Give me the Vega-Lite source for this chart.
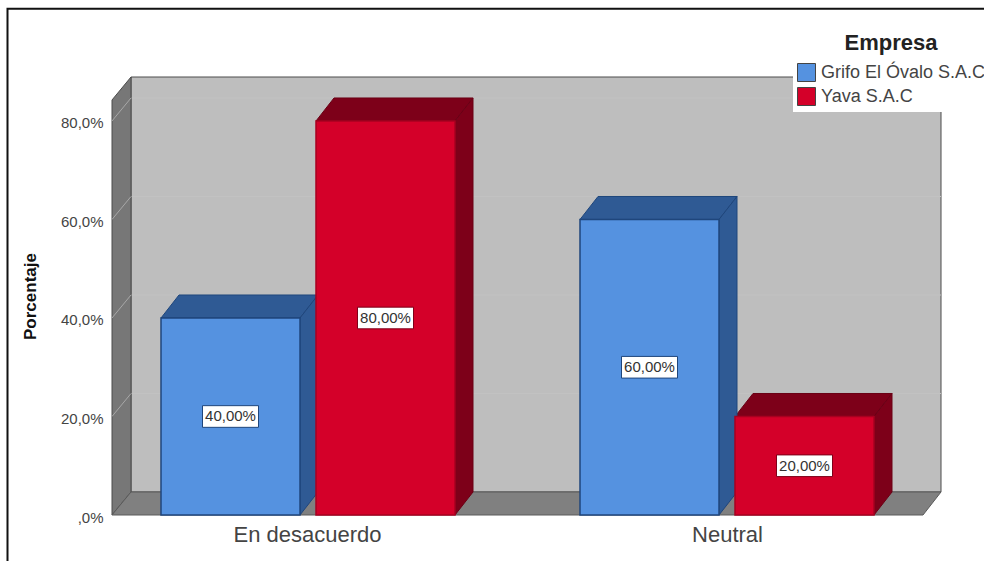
{"$schema":"https://vega.github.io/schema/vega-lite/v6.json","width":829,"height":438,"autosize":"none","padding":{"left":112,"top":77,"right":43,"bottom":46},"background":"white","config":{"view":{"stroke":null},"font":"Liberation Sans"},"datasets":{"barras":[{"categoria":"En desacuerdo","empresa":"Grifo El Óvalo S.A.C","valor":40},{"categoria":"En desacuerdo","empresa":"Yava S.A.C","valor":80},{"categoria":"Neutral","empresa":"Grifo El Óvalo S.A.C","valor":60},{"categoria":"Neutral","empresa":"Yava S.A.C","valor":20}],"marcas":[{"v":20},{"v":40},{"v":60},{"v":80}],"paredIzq":[{"x":0,"y":0,"y2":84.26},{"x":19,"y":4.67,"y2":88.93}],"piso":[{"x":0,"x2":811,"y":0},{"x":19,"x2":829,"y":4.67}]},"layer":[{"data":{"values":[{}]},"mark":{"type":"rect","fill":"#bebebe","stroke":"#4d4d4d","strokeWidth":1},"encoding":{"x":{"datum":19,"type":"quantitative","scale":{"domain":[0,829],"nice":false},"axis":{"values":[195,615],"labelExpr":"datum.value<300?'En desacuerdo':'Neutral'","title":null,"domain":false,"ticks":false,"grid":false,"labelFontSize":22,"labelColor":"#444444","labelPadding":9,"labelFont":"Liberation Sans"}},"x2":{"datum":829},"y":{"datum":4.67,"type":"quantitative","scale":{"domain":[0,88.93],"nice":false},"axis":{"values":[0,20,40,60,80],"labelExpr":"datum.value==0?',0%':replace(format(datum.value,'.1f'),'.',',')+'%'","title":"Porcentaje","titleFontSize":17,"titleFontWeight":"bold","titleColor":"#111111","titleFont":"Liberation Sans","titlePadding":21,"domain":false,"ticks":false,"grid":false,"labelFontSize":15,"labelColor":"#444444","labelPadding":9,"labelOffset":2,"labelFont":"Liberation Sans"}},"y2":{"datum":88.93}}},{"data":{"name":"marcas"},"transform":[{"calculate":"datum.v+4.67","as":"yg"}],"mark":{"type":"rule","stroke":"#c3c3c3","strokeWidth":1},"encoding":{"x":{"datum":19,"type":"quantitative"},"x2":{"datum":829},"y":{"field":"yg","type":"quantitative"}}},{"data":{"name":"paredIzq"},"mark":{"type":"area","orient":"vertical","fill":"#777777","stroke":"#4d4d4d","strokeWidth":1},"encoding":{"x":{"field":"x","type":"quantitative"},"y":{"field":"y","type":"quantitative","stack":null},"y2":{"field":"y2"}}},{"data":{"name":"piso"},"mark":{"type":"area","orient":"horizontal","fill":"#808080","stroke":"#5a5a5a","strokeWidth":1},"encoding":{"x":{"field":"x","type":"quantitative","stack":null},"x2":{"field":"x2"},"y":{"field":"y","type":"quantitative"}}},{"data":{"name":"marcas"},"transform":[{"calculate":"[0,1]","as":"t"},{"flatten":["t"]},{"calculate":"19*datum.t","as":"xd"},{"calculate":"datum.v+4.67*datum.t","as":"yd"}],"mark":{"type":"line","stroke":"#a8a8a8","strokeWidth":1},"encoding":{"x":{"field":"xd","type":"quantitative"},"y":{"field":"yd","type":"quantitative"},"detail":{"field":"v"}}},{"data":{"name":"barras"},"transform":[{"calculate":"49+(datum.categoria=='Neutral'?419:0)+(datum.empresa=='Yava S.A.C'?155:0)","as":"pos"},{"calculate":"datum.categoria+datum.empresa","as":"id"},{"calculate":"[0,1]","as":"t"},{"flatten":["t"]},{"calculate":"datum.pos+18*datum.t","as":"xa"},{"calculate":"datum.pos+139+18*datum.t","as":"xb"},{"calculate":"datum.valor+4.67*datum.t","as":"yy"}],"mark":{"type":"area","orient":"horizontal","strokeWidth":1},"encoding":{"x":{"field":"xa","type":"quantitative","stack":null},"x2":{"field":"xb"},"y":{"field":"yy","type":"quantitative"},"detail":{"field":"id"},"fill":{"condition":{"test":"datum.empresa=='Yava S.A.C'","value":"#7d0019"},"value":"#2f5a94"},"stroke":{"condition":{"test":"datum.empresa=='Yava S.A.C'","value":"#6a0015"},"value":"#1f467c"}}},{"data":{"name":"barras"},"transform":[{"calculate":"49+(datum.categoria=='Neutral'?419:0)+(datum.empresa=='Yava S.A.C'?155:0)","as":"pos"},{"calculate":"datum.categoria+datum.empresa","as":"id"},{"calculate":"[0,1]","as":"t"},{"flatten":["t"]},{"calculate":"datum.pos+139+18*datum.t","as":"xs"},{"calculate":"datum.valor+4.67*datum.t","as":"ys"},{"calculate":"4.67*datum.t","as":"ys2"}],"mark":{"type":"area","orient":"vertical","strokeWidth":1},"encoding":{"x":{"field":"xs","type":"quantitative"},"y":{"field":"ys","type":"quantitative","stack":null},"y2":{"field":"ys2"},"detail":{"field":"id"},"fill":{"condition":{"test":"datum.empresa=='Yava S.A.C'","value":"#7d0019"},"value":"#2f5a94"},"stroke":{"condition":{"test":"datum.empresa=='Yava S.A.C'","value":"#6a0015"},"value":"#1f467c"}}},{"data":{"name":"barras"},"transform":[{"calculate":"49+(datum.categoria=='Neutral'?419:0)+(datum.empresa=='Yava S.A.C'?155:0)","as":"pos"},{"calculate":"datum.pos+139","as":"fin"}],"mark":{"type":"rect","strokeWidth":1.5},"encoding":{"x":{"field":"pos","type":"quantitative"},"x2":{"field":"fin"},"y":{"field":"valor","type":"quantitative"},"y2":{"datum":0},"fill":{"field":"empresa","type":"nominal","scale":{"domain":["Grifo El Óvalo S.A.C","Yava S.A.C"],"range":["#5592e0","#d40029"]},"legend":{"title":"Empresa","orient":"none","legendX":681,"legendY":-48,"zindex":1,"fillColor":"white","padding":4,"titleFontSize":22,"titleFontWeight":"bold","titleColor":"#222222","titleAnchor":"middle","titlePadding":8,"titleFont":"Liberation Sans","labelFontSize":18,"labelColor":"#444444","labelFont":"Liberation Sans","labelLimit":300,"symbolType":"square","symbolSize":324,"symbolStrokeColor":"#444444","symbolStrokeWidth":1,"rowPadding":1,"labelOffset":5}},"stroke":{"condition":{"test":"datum.empresa=='Yava S.A.C'","value":"#a80020"},"value":"#1f467c"}}},{"data":{"name":"barras"},"transform":[{"calculate":"49+(datum.categoria=='Neutral'?419:0)+(datum.empresa=='Yava S.A.C'?155:0)+69.5","as":"cx"},{"calculate":"datum.cx-28","as":"x1"},{"calculate":"datum.cx+28","as":"x2"},{"calculate":"datum.valor/2","as":"cy"},{"calculate":"datum.cy-2.2","as":"y1"},{"calculate":"datum.cy+2.2","as":"y2"}],"mark":{"type":"rect","fill":"white","strokeWidth":1},"encoding":{"x":{"field":"x1","type":"quantitative"},"x2":{"field":"x2"},"y":{"field":"y1","type":"quantitative"},"y2":{"field":"y2"},"stroke":{"condition":{"test":"datum.empresa=='Yava S.A.C'","value":"#7d0019"},"value":"#1f467c"}}},{"data":{"name":"barras"},"transform":[{"calculate":"49+(datum.categoria=='Neutral'?419:0)+(datum.empresa=='Yava S.A.C'?155:0)+69.5","as":"cx"},{"calculate":"datum.valor/2","as":"cy"},{"calculate":"replace(format(datum.valor,'.2f'),'.',',')+'%'","as":"etiqueta"}],"mark":{"type":"text","font":"Liberation Sans","fontSize":15,"fill":"#333333","align":"center","baseline":"middle"},"encoding":{"x":{"field":"cx","type":"quantitative"},"y":{"field":"cy","type":"quantitative"},"text":{"field":"etiqueta"}}},{"data":{"values":[{}]},"mark":{"type":"rect","fill":null,"stroke":"#111111","strokeWidth":2,"clip":false},"encoding":{"x":{"datum":-104.5,"type":"quantitative"},"x2":{"datum":1000},"y":{"datum":102.8,"type":"quantitative"},"y2":{"datum":-30}}}]}
